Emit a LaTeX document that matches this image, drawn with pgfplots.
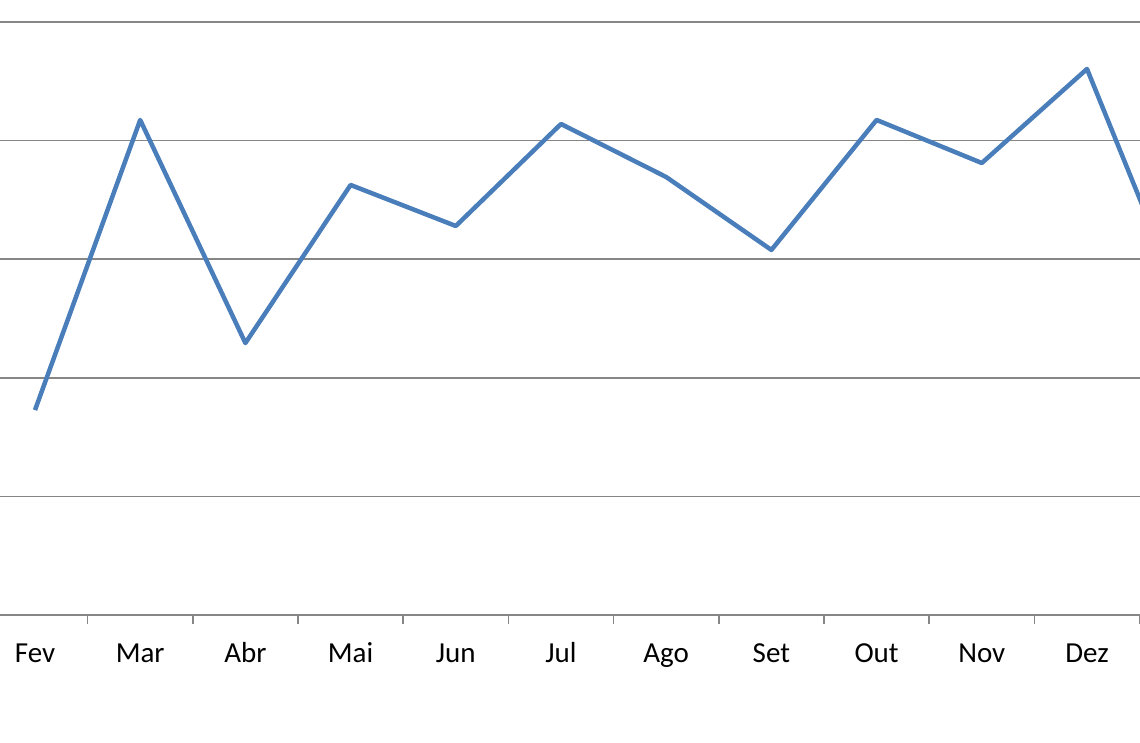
\documentclass[border=0pt]{standalone}
\usepackage{pgfplots}
\pgfplotsset{compat=1.18}
\usepackage{fontspec}
\setmainfont{Carlito}
\definecolor{linecol}{HTML}{4A7EBB}
\definecolor{gridcol}{HTML}{868686}
\begin{document}
\begin{tikzpicture}[x=1pt,y=1pt]
\useasboundingbox (0,-127) rectangle (1140,615);
\begin{axis}[
  at={(0pt,0pt)}, anchor=south west,
  scale only axis, width=1140pt, height=615pt,
  xmin=0.6673, xmax=11.504,
  ymin=0, ymax=5.1855,
  axis line style={draw=none},
  ytick={0,1,2,3,4,5}, yticklabels={},
  ymajorgrids, grid style={gridcol, line width=1.6pt},
  major y tick style={draw=none},
  xtick={1,...,11},
  xticklabels={Fev,Mar,Abr,Mai,Jun,Jul,Ago,Set,Out,Nov,Dez},
  major x tick style={draw=none},
  major tick length=0pt,
  minor xtick={0.5,1.5,...,11.5},
  minor x tick style={gridcol, line width=1.6pt},
  minor tick length=9pt,
  tick align=outside,
  xticklabel style={font=\fontsize{29}{34}\selectfont, anchor=base, yshift=-47pt},
  clip=true,
]
\addplot[linecol, line width=4.5pt, line join=round] coordinates {
(1,1.728) (2,4.174) (3,2.293) (4,3.626) (5,3.280) (6,4.140)
(7,3.693) (8,3.078) (9,4.174) (10,3.811) (11,4.604) (12,2.420)
};
\end{axis}
\end{tikzpicture}
\end{document}
